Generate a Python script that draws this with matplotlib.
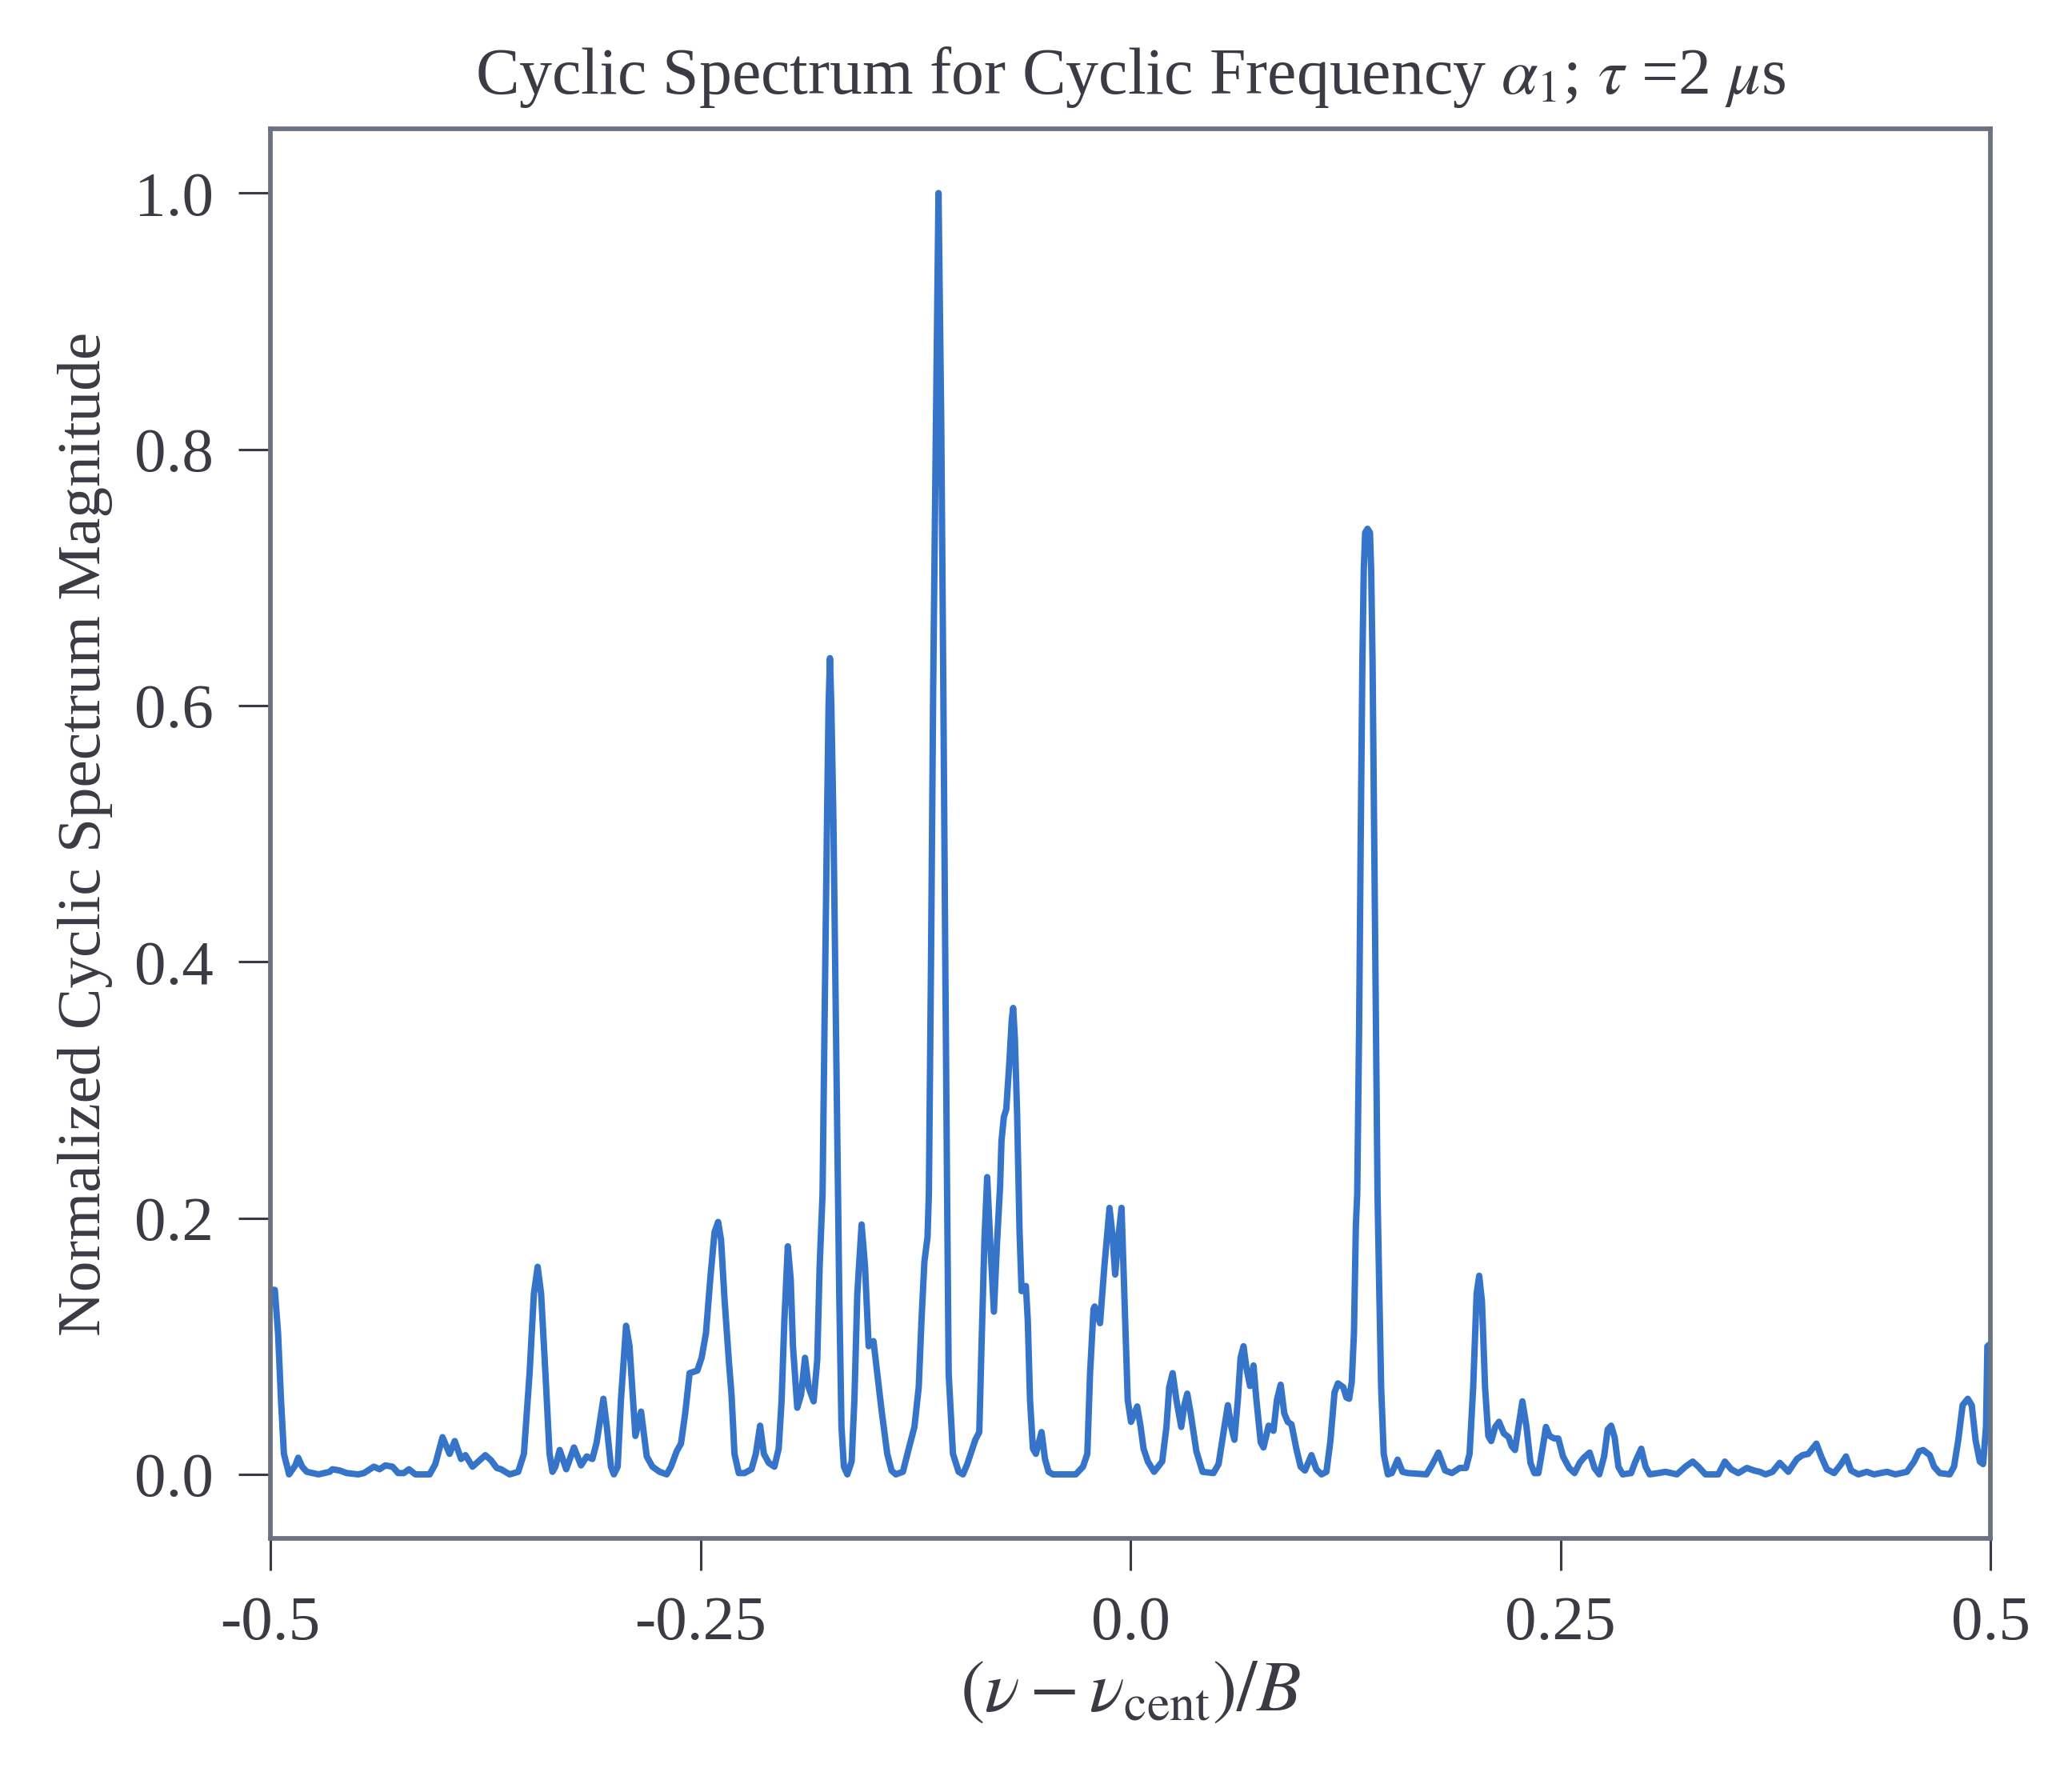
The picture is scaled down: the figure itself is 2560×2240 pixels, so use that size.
import matplotlib
matplotlib.use("Agg")
import matplotlib.pyplot as plt

# normalised frequency offset (nu - nu_cent)/B
freq = [
    -0.5000, -0.4985, -0.4974, -0.4955, -0.4938, -0.4921, -0.4891, -0.4855, -0.4838, -0.4815,
    -0.4788, -0.4720, -0.4655, -0.4639, -0.4597, -0.4556, -0.4489, -0.4456, -0.4398, -0.4365,
    -0.4331, -0.4290, -0.4257, -0.4224, -0.4194, -0.4157, -0.4074, -0.4041, -0.3999, -0.3958,
    -0.3928, -0.3891, -0.3866, -0.3825, -0.3750, -0.3717, -0.3684, -0.3659, -0.3609, -0.3559,
    -0.3526, -0.3493, -0.3468, -0.3446, -0.3426, -0.3401, -0.3377, -0.3360, -0.3343, -0.3318,
    -0.3280, -0.3235, -0.3194, -0.3161, -0.3128, -0.3103, -0.3064, -0.3044, -0.3020, -0.3003,
    -0.2981, -0.2962, -0.2932, -0.2912, -0.2878, -0.2845, -0.2812, -0.2779, -0.2737, -0.2696,
    -0.2671, -0.2638, -0.2613, -0.2588, -0.2563, -0.2518, -0.2493, -0.2468, -0.2443, -0.2418,
    -0.2397, -0.2380, -0.2360, -0.2335, -0.2319, -0.2302, -0.2277, -0.2244, -0.2203, -0.2178,
    -0.2153, -0.2131, -0.2103, -0.2070, -0.2045, -0.2028, -0.2012, -0.1992, -0.1975, -0.1962,
    -0.1937, -0.1915, -0.1892, -0.1871, -0.1842, -0.1821, -0.1807, -0.1790, -0.1778, -0.1764,
    -0.1755, -0.1747, -0.1739, -0.1727, -0.1713, -0.1700, -0.1693, -0.1680, -0.1666, -0.1646,
    -0.1621, -0.1605, -0.1588, -0.1563, -0.1543, -0.1522, -0.1494, -0.1472, -0.1447, -0.1414,
    -0.1389, -0.1364, -0.1323, -0.1289, -0.1256, -0.1231, -0.1215, -0.1198, -0.1180, -0.1172,
    -0.1159, -0.1147, -0.1131, -0.1116, -0.1100, -0.1088, -0.1077, -0.1066, -0.1057, -0.1032,
    -0.0999, -0.0974, -0.0949, -0.0929, -0.0902, -0.0879, -0.0866, -0.0849, -0.0833, -0.0816,
    -0.0794, -0.0775, -0.0758, -0.0750, -0.0736, -0.0722, -0.0705, -0.0690, -0.0682, -0.0672,
    -0.0659, -0.0645, -0.0633, -0.0608, -0.0597, -0.0584, -0.0567, -0.0550, -0.0517, -0.0497,
    -0.0476, -0.0451, -0.0318, -0.0276, -0.0251, -0.0235, -0.0215, -0.0208, -0.0177, -0.0152,
    -0.0122, -0.0105, -0.0089, -0.0072, -0.0052, -0.0036, -0.0016, 0.0003, 0.0039, 0.0059,
    0.0076, 0.0101, 0.0137, 0.0184, 0.0209, 0.0225, 0.0245, 0.0267, 0.0295, 0.0313,
    0.0330, 0.0350, 0.0383, 0.0419, 0.0482, 0.0512, 0.0541, 0.0566, 0.0586, 0.0604,
    0.0624, 0.0640, 0.0657, 0.0674, 0.0695, 0.0715, 0.0732, 0.0757, 0.0773, 0.0803,
    0.0831, 0.0851, 0.0873, 0.0894, 0.0914, 0.0936, 0.0964, 0.0989, 0.1014, 0.1052,
    0.1080, 0.1110, 0.1139, 0.1162, 0.1186, 0.1206, 0.1237, 0.1255, 0.1271, 0.1286,
    0.1299, 0.1310, 0.1318, 0.1329, 0.1338, 0.1348, 0.1356, 0.1364, 0.1378, 0.1392,
    0.1399, 0.1407, 0.1417, 0.1427, 0.1436, 0.1445, 0.1457, 0.1472, 0.1496, 0.1519,
    0.1553, 0.1581, 0.1612, 0.1720, 0.1751, 0.1790, 0.1829, 0.1868, 0.1914, 0.1950,
    0.1971, 0.1992, 0.2012, 0.2027, 0.2043, 0.2061, 0.2080, 0.2097, 0.2120, 0.2142,
    0.2170, 0.2198, 0.2216, 0.2235, 0.2255, 0.2278, 0.2302, 0.2325, 0.2348, 0.2371,
    0.2395, 0.2415, 0.2436, 0.2464, 0.2487, 0.2514, 0.2550, 0.2581, 0.2611, 0.2635,
    0.2669, 0.2697, 0.2725, 0.2753, 0.2774, 0.2794, 0.2814, 0.2836, 0.2861, 0.2910,
    0.2935, 0.2969, 0.2994, 0.3018, 0.3068, 0.3110, 0.3176, 0.3226, 0.3268, 0.3301,
    0.3342, 0.3417, 0.3455, 0.3492, 0.3533, 0.3583, 0.3625, 0.3658, 0.3691, 0.3732,
    0.3774, 0.3824, 0.3874, 0.3907, 0.3940, 0.3987, 0.4015, 0.4048, 0.4090, 0.4131,
    0.4159, 0.4189, 0.4231, 0.4280, 0.4322, 0.4397, 0.4446, 0.4513, 0.4555, 0.4584,
    0.4608, 0.4646, 0.4671, 0.4704, 0.4762, 0.4787, 0.4812, 0.4837, 0.4867, 0.4890,
    0.4912, 0.4937, 0.4956, 0.4973, 0.4981, 0.5000,
]

# normalised cyclic spectrum magnitude at those frequencies
magnitude = [
    0.135, 0.144, 0.144, 0.110, 0.058, 0.016, 0.000, 0.007, 0.013, 0.006,
    0.002, 0.000, 0.002, 0.004, 0.003, 0.001, 0.000, 0.001, 0.006, 0.004,
    0.007, 0.006, 0.001, 0.001, 0.004, 0.000, 0.000, 0.008, 0.029, 0.016,
    0.026, 0.012, 0.015, 0.006, 0.015, 0.011, 0.005, 0.004, 0.000, 0.002,
    0.016, 0.079, 0.141, 0.162, 0.141, 0.079, 0.016, 0.002, 0.006, 0.019,
    0.004, 0.021, 0.007, 0.014, 0.012, 0.025, 0.059, 0.037, 0.006, 0.000,
    0.006, 0.058, 0.116, 0.100, 0.030, 0.049, 0.014, 0.006, 0.002, 0.000,
    0.006, 0.018, 0.024, 0.048, 0.079, 0.081, 0.091, 0.110, 0.152, 0.189,
    0.197, 0.183, 0.137, 0.089, 0.062, 0.016, 0.001, 0.001, 0.004, 0.016,
    0.038, 0.016, 0.009, 0.006, 0.020, 0.058, 0.120, 0.178, 0.152, 0.100,
    0.052, 0.062, 0.091, 0.068, 0.057, 0.089, 0.162, 0.219, 0.357, 0.511,
    0.600, 0.637, 0.600, 0.511, 0.357, 0.219, 0.141, 0.037, 0.006, 0.000,
    0.010, 0.058, 0.141, 0.195, 0.162, 0.100, 0.104, 0.079, 0.050, 0.016,
    0.003, 0.000, 0.002, 0.020, 0.037, 0.068, 0.120, 0.166, 0.185, 0.219,
    0.408, 0.614, 0.820, 1.000, 0.820, 0.614, 0.408, 0.219, 0.079, 0.016,
    0.002, 0.000, 0.008, 0.016, 0.027, 0.033, 0.100, 0.183, 0.232, 0.183,
    0.127, 0.183, 0.225, 0.260, 0.279, 0.285, 0.320, 0.355, 0.364, 0.340,
    0.281, 0.190, 0.143, 0.147, 0.120, 0.058, 0.020, 0.016, 0.033, 0.012,
    0.002, 0.000, 0.000, 0.006, 0.016, 0.079, 0.129, 0.131, 0.118, 0.162,
    0.208, 0.187, 0.156, 0.183, 0.208, 0.141, 0.058, 0.041, 0.053, 0.037,
    0.020, 0.010, 0.002, 0.010, 0.037, 0.068, 0.079, 0.058, 0.037, 0.054,
    0.063, 0.0475, 0.018, 0.002, 0.001, 0.008, 0.033, 0.054, 0.037, 0.027,
    0.058, 0.091, 0.100, 0.083, 0.069, 0.085, 0.058, 0.025, 0.021, 0.038,
    0.034, 0.058, 0.070, 0.0475, 0.041, 0.039, 0.020, 0.006, 0.003, 0.015,
    0.004, 0.000, 0.002, 0.026, 0.064, 0.071, 0.068, 0.060, 0.059, 0.072,
    0.110, 0.194, 0.219, 0.350, 0.493, 0.635, 0.706, 0.735, 0.738, 0.735,
    0.706, 0.635, 0.493, 0.350, 0.219, 0.152, 0.068, 0.016, 0.000, 0.001,
    0.0115, 0.002, 0.001, 0.000, 0.007, 0.017, 0.003, 0.001, 0.005, 0.005,
    0.016, 0.068, 0.141, 0.155, 0.135, 0.068, 0.030, 0.026, 0.037, 0.041,
    0.032, 0.029, 0.022, 0.019, 0.037, 0.057, 0.037, 0.009, 0.001, 0.001,
    0.020, 0.037, 0.030, 0.028, 0.028, 0.014, 0.005, 0.001, 0.009, 0.013,
    0.017, 0.005, 0.000, 0.014, 0.035, 0.038, 0.029, 0.006, 0.000, 0.001,
    0.010, 0.020, 0.006, 0.000, 0.001, 0.002, 0.000, 0.006, 0.010, 0.006,
    0.000, 0.000, 0.010, 0.004, 0.001, 0.005, 0.003, 0.002, 0.000, 0.002,
    0.009, 0.002, 0.012, 0.015, 0.016, 0.024, 0.014, 0.004, 0.001, 0.008,
    0.014, 0.003, 0.000, 0.002, 0.000, 0.002, 0.000, 0.002, 0.010, 0.018,
    0.019, 0.015, 0.006, 0.001, 0.000, 0.006, 0.027, 0.054, 0.059, 0.054,
    0.027, 0.010, 0.008, 0.037, 0.100, 0.102,
]

xticks = [-0.5, -0.25, 0.0, 0.25, 0.5]
xtick_labels = ["-0.5", "-0.25", "0.0", "0.25", "0.5"]
yticks = [0.0, 0.2, 0.4, 0.6, 0.8, 1.0]
ytick_labels = ["0.0", "0.2", "0.4", "0.6", "0.8", "1.0"]

text_col = "#3b3b45"
spine_col = "#6b7380"
line_col = "#3574c8"

plt.rcParams["font.family"] = ["Liberation Serif", "DejaVu Serif"]
plt.rcParams["mathtext.fontset"] = "stix"
plt.rcParams["axes.unicode_minus"] = False

fig = plt.figure(figsize=(8, 7), dpi=320)
ax = fig.add_subplot(1, 1, 1)
fig.subplots_adjust(left=0.132, right=0.972, top=0.928, bottom=0.1415)

ax.plot(freq, magnitude, color=line_col, linewidth=1.8, solid_joinstyle="round")

ax.set_xlim(-0.5, 0.5)
ax.set_ylim(-0.05, 1.05)
ax.set_xticks(xticks)
ax.set_xticklabels(xtick_labels)
ax.set_yticks(yticks)
ax.set_yticklabels(ytick_labels)

for s in ax.spines.values():
    s.set_color(spine_col)
    s.set_linewidth(1.3)
ax.tick_params(axis="both", direction="out", length=9, width=0.7, color=text_col,
               labelcolor=text_col, labelsize=17.8, pad=7)

ax.set_title(r"Cyclic Spectrum for Cyclic Frequency $\alpha_1$; $\tau$ =2 $\mu$s",
             fontsize=18.4, color=text_col, pad=10)
ax.set_xlabel(r"$(\nu - \nu_{\mathrm{cent}})/B$", fontsize=20.5, color=text_col, labelpad=2)
ax.set_ylabel("Normalized Cyclic Spectrum Magnitude", fontsize=17.4, color=text_col, labelpad=6)

fig.savefig("out.png", dpi=320)
